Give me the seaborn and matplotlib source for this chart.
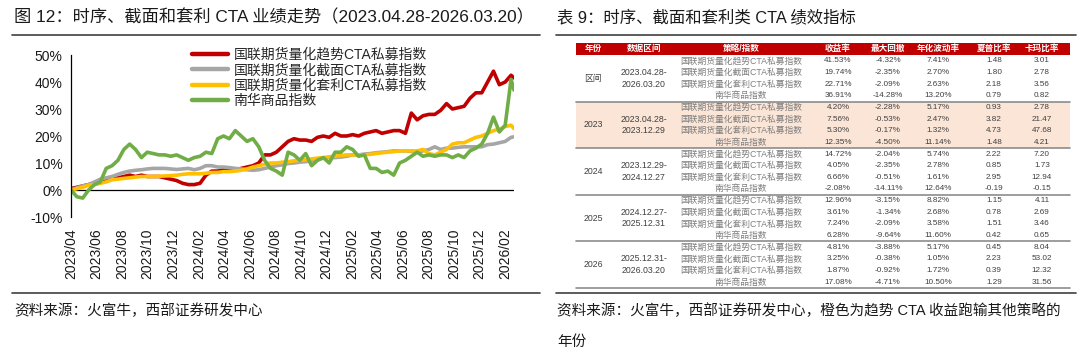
import numpy as np
import pandas as pd
import matplotlib
matplotlib.use('Agg')
import matplotlib.pyplot as plt
from matplotlib.patches import Rectangle
from matplotlib.ticker import FuncFormatter
import seaborn as sns

# ---- chart data (cumulative return, %), roughly every 2 weeks ----
dates = list(pd.date_range('2023-04-28', periods=76, freq='14D')) + [pd.Timestamp('2026-03-20')]

trend = [0.5, 1, 1.5, 2, 2.5, 3, 3.5, 4, 4.5, 5,
         5.5, 5, 5.5, 5, 5, 5, 4.5, 4, 3.5, 2.5,
         2, 2, 2.5, 5.5, 7, 7, 7.5, 7, 7.5, 8,
         8.5, 9, 10, 13, 13, 14, 16, 18, 19, 18.5,
         18.5, 18, 19.5, 20, 19.5, 21, 20, 20, 20.5, 20,
         21, 21.5, 22, 21, 21.5, 22, 22, 21, 28.5, 26,
         27.5, 28, 28, 29.5, 32, 30, 30.5, 31, 34, 36,
         36, 40, 44, 39, 40, 42.5, 41.5]
cross = [0, 0.8, 1.5, 2, 3, 4, 4.5, 5, 5.8, 6.5,
         7, 7.3, 7.5, 7.8, 8, 8, 8, 7.8, 7.6, 7.8,
         8, 7.5, 8, 9, 9, 8.5, 8.5, 8.3, 8, 7.8,
         7.5, 7.3, 7.5, 8, 8.5, 9, 9.3, 9.8, 10, 10.3,
         10.5, 10.8, 11.2, 11.8, 12, 12, 12.2, 12.5, 13, 13,
         13.3, 13.5, 13.8, 14, 14.2, 14.5, 14.5, 14.5, 14.3, 14,
         14.5, 15, 16, 15, 15.5, 15.5, 15.8, 16, 16, 16,
         16, 16.8, 17, 17.5, 18, 19.5, 19.7]
arb = [0, 0.5, 1, 1.8, 2, 2.5, 3, 3.8, 4, 4.3,
       4.5, 4.8, 5, 5, 5, 5.1, 5.2, 5.3, 5.5, 5.8,
       6, 6, 6, 6.2, 6.5, 6.5, 6.8, 6.8, 7, 7.3,
       7.8, 8.5, 9, 9.5, 10, 10, 10.3, 10.5, 10.8, 11,
       11.2, 11.5, 11.8, 12, 12.3, 12.5, 12.8, 13, 13, 13,
       13, 13.2, 13.5, 13.8, 14, 14.2, 14.5, 14.5, 14.5, 14.5,
       15, 13.5, 13, 14, 15, 17, 17.5, 17.5, 18.5, 19.5,
       20, 21, 22, 22.5, 23.5, 24, 22.7]
nanhua = [0, -2.5, -3, 0, 2, 3, 8, 9, 11, 15,
          17, 15, 12, 14, 13.5, 13, 13, 12.5, 13, 12,
          11, 12, 12.5, 14, 13.5, 19, 20, 19, 22, 20,
          18, 19, 16, 11, 8, 7, 5.5, 14, 13, 11,
          13.5, 9, 11, 12, 10, 14, 14, 16, 15, 12.5,
          13, 8, 8, 6.5, 7, 5.5, 10, 11, 12.5, 14,
          12.5, 13, 12.5, 13, 13, 12, 13, 12, 14.5, 15.5,
          17, 21, 27, 21.5, 24, 41, 37]

series_names = ['国联期货量化趋势CTA私募指数', '国联期货量化截面CTA私募指数',
                '国联期货量化套利CTA私募指数', '南华商品指数']
colors = ['#C00000', '#A6A6A6', '#FFC000', '#70AD47']

# ---- table data ----
header = ['年份', '数据区间', '策略/指数', '收益率', '最大回撤', '年化波动率', '夏普比率', '卡玛比率']
years = ['区间', '2023', '2024', '2025', '2026']
ranges = [('2023.04.28-', '2026.03.20'), ('2023.04.28-', '2023.12.29'), ('2023.12.29-', '2024.12.27'),
          ('2024.12.27-', '2025.12.31'), ('2025.12.31-', '2026.03.20')]
ret = ['41.53%', '19.74%', '22.71%', '36.91%', '4.20%', '7.56%', '5.30%', '12.35%',
       '14.72%', '4.05%', '6.66%', '-2.08%', '12.96%', '3.61%', '7.24%', '6.28%',
       '4.81%', '3.25%', '1.87%', '17.08%']
mdd = ['-4.32%', '-2.35%', '-2.09%', '-14.28%', '-2.28%', '-0.53%', '-0.17%', '-4.50%',
       '-2.04%', '-2.35%', '-0.51%', '-14.11%', '-3.15%', '-1.34%', '-2.09%', '-9.64%',
       '-3.88%', '-0.38%', '-0.92%', '-4.71%']
vol = ['7.41%', '2.70%', '2.63%', '13.20%', '5.17%', '2.47%', '1.32%', '11.14%',
       '5.74%', '2.78%', '1.61%', '12.64%', '8.82%', '2.68%', '3.58%', '11.60%',
       '5.17%', '1.05%', '1.72%', '10.50%']
sharpe = ['1.48', '1.80', '2.18', '0.79', '0.93', '3.82', '4.73', '1.48',
          '2.22', '0.85', '2.95', '-0.19', '1.15', '0.78', '1.51', '0.42',
          '0.45', '2.23', '0.39', '1.29']
calmar = ['3.01', '2.78', '3.56', '0.82', '2.78', '21.47', '47.68', '4.21',
          '7.20', '1.73', '12.94', '-0.15', '4.11', '2.69', '3.46', '0.65',
          '8.04', '53.02', '12.32', '31.56']

df = pd.DataFrame({'date': dates * 4,
                   'value': trend + cross + arb + nanhua,
                   'series': np.repeat(series_names, len(dates))})

sns.set_style('white')
plt.rcParams['font.family'] = ['Liberation Sans', 'Noto Sans CJK SC']

fig = plt.figure(figsize=(10.8, 3.63), dpi=100)
ax = fig.add_axes([71 / 1080, 1 - 217 / 363, 443 / 1080, 162 / 363])
sns.lineplot(data=df, x='date', y='value', hue='series', hue_order=series_names,
             palette=colors, linewidth=2.6, ax=ax)

ax.set_ylim(-10, 50)
ax.set_yticks(range(-10, 51, 10))
ax.yaxis.set_major_formatter(FuncFormatter(lambda v, p: '%d%%' % v))
ax.set_xlim(dates[0], dates[-1])
xt = pd.date_range('2023-04-28', periods=18, freq=pd.DateOffset(months=2))
ax.set_xticks(xt)
ax.set_xticklabels([d.strftime('%Y/%m') for d in xt], rotation=90)
ax.tick_params(axis='x', length=0, pad=8, labelsize=10, labelcolor='#1a1a1a')
ax.tick_params(axis='y', length=0, pad=6, labelsize=10, labelcolor='#1a1a1a')
ax.set_xlabel('')
ax.set_ylabel('')
for s in ['top', 'right', 'bottom']:
    ax.spines[s].set_visible(False)
ax.spines['left'].set_color('black')
ax.spines['left'].set_linewidth(0.9)
ax.axhline(0, color='black', lw=0.9, zorder=1)

h, l = ax.get_legend_handles_labels()
leg = ax.legend(h, l, loc='upper left', bbox_to_anchor=(185 / 1080, 1 - 41 / 363),
                bbox_transform=fig.transFigure, frameon=False, fontsize=10,
                handlelength=2.6, handletextpad=0.4, labelspacing=0.1, borderpad=0)
for ln in leg.get_lines():
    ln.set_linewidth(3.2)

# ---- overlay for titles, rules and the table ----
ov = fig.add_axes([0, 0, 1, 1])
ov.set_xlim(0, 1080)
ov.set_ylim(363, 0)
ov.axis('off')

ov.text(14, 17, '图 12：时序、截面和套利 CTA 业绩走势（2023.04.28-2026.03.20）',
        fontsize=12.4, va='center', ha='left', color='#1a1a1a')
ov.text(557, 17, '表 9：时序、截面和套利类 CTA 绩效指标',
        fontsize=11.8, va='center', ha='left', color='#1a1a1a')
for x0, x1 in [(12, 540), (556, 1076)]:
    ov.plot([x0, x1], [35, 35], color='#404040', lw=1.2)
    ov.plot([x0, x1], [293, 293], color='#404040', lw=1.2)
ov.text(14, 311, '资料来源：火富牛，西部证券研发中心', fontsize=10.5, va='center', color='#1a1a1a')
ov.text(557, 311, '资料来源：火富牛，西部证券研发中心，橙色为趋势 CTA 收益跑输其他策略的',
        fontsize=10.5, va='center', color='#1a1a1a')
ov.text(557, 342, '年份', fontsize=10.5, va='center', color='#1a1a1a')

tx0, tx1 = 576, 1070
hy0, rh = 42.5, 11.65
ry0 = 55.0
col_x = [593, 644, 741, 838, 888, 938, 994, 1042]

ov.add_patch(Rectangle((tx0, hy0), tx1 - tx0, ry0 - hy0, color='#C00000', lw=0))
for name, cx in zip(header, col_x):
    ov.text(cx, (hy0 + ry0) / 2, name, ha='center', va='center', fontsize=6.2,
            color='white', fontweight='bold')

# highlighted year (2023)
ov.add_patch(Rectangle((tx0, ry0 + 4 * rh), tx1 - tx0, 4 * rh, color='#FBE5D6', lw=0))

for g in range(5):
    gy = ry0 + g * 4 * rh
    mid = gy + 2 * rh
    ov.text(col_x[0], mid, years[g], ha='center', va='center', fontsize=6.3, color='#404040')
    ov.text(col_x[1], mid - rh / 2, ranges[g][0], ha='center', va='center', fontsize=6.3, color='#404040')
    ov.text(col_x[1], mid + rh / 2, ranges[g][1], ha='center', va='center', fontsize=6.3, color='#404040')
    for r in range(4):
        i = g * 4 + r
        cy = gy + (r + 0.5) * rh
        ov.text(col_x[2], cy, series_names[r], ha='center', va='center', fontsize=6.3, color='#7f7f7f')
        for vals, cx in zip([ret, mdd, vol, sharpe, calmar], col_x[3:]):
            ov.text(cx, cy, vals[i], ha='center', va='center', fontsize=5.9, color='#404040')
    ov.plot([tx0, tx1], [gy + 4 * rh, gy + 4 * rh], color='#8c8c8c', lw=1.2)

fig.savefig('out.png', dpi=100)
